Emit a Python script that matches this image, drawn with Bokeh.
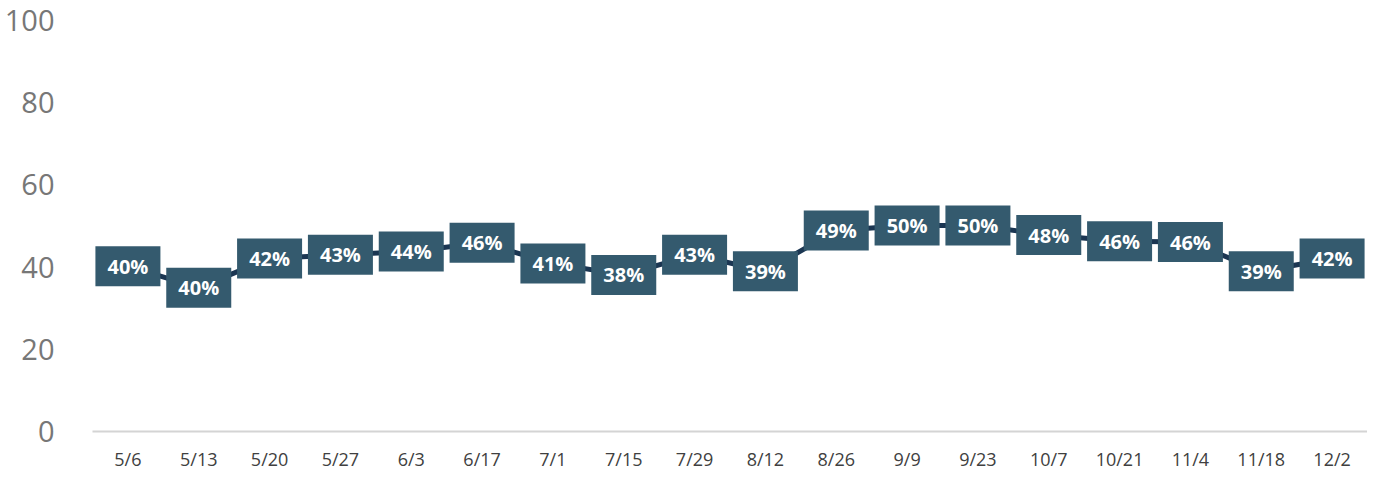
from bokeh.plotting import figure
from bokeh.models import ColumnDataSource, Range1d, FactorRange, FixedTicker
from bokeh.core.properties import value
from bokeh.embed import file_html
from bokeh.resources import INLINE

dates = ["5/6", "5/13", "5/20", "5/27", "6/3", "6/17", "7/1", "7/15", "7/29",
         "8/12", "8/26", "9/9", "9/23", "10/7", "10/21", "11/4", "11/18", "12/2"]
values = [40.2, 35.0, 42.1, 43.0, 43.8, 45.9, 40.9, 38.1, 43.0,
          39.0, 48.9, 50.1, 50.1, 47.8, 46.3, 46.1, 39.0, 42.1]
labels = ["40%", "40%", "42%", "43%", "44%", "46%", "41%", "38%", "43%",
          "39%", "49%", "50%", "50%", "48%", "46%", "46%", "39%", "42%"]
y_ticks = [0, 20, 40, 60, 80, 100]

src = ColumnDataSource(dict(x=dates, y=values, lab=labels))

p = figure(width=1367, height=473, x_range=FactorRange(*dates, range_padding=0),
           y_range=Range1d(0, 100), output_backend="svg", toolbar_location=None,
           min_border_left=92, min_border_right=0, min_border_top=20, min_border_bottom=36)
p.outline_line_color = None
p.grid.visible = False

p.line("x", "y", source=src, line_color="#1b3652", line_width=5)
p.rect("x", "y", width=65, height=40, width_units="screen", height_units="screen",
       source=src, fill_color="#345a6e", line_color=None)
p.text("x", "y", text="lab", source=src, text_color="white", text_font=value("Open Sans"),
       text_font_style="bold", text_font_size="20px", text_align="center",
       text_baseline="middle")

p.yaxis.ticker = FixedTicker(ticks=y_ticks)
p.yaxis.axis_line_color = None
p.yaxis.major_tick_line_color = None
p.yaxis.minor_tick_line_color = None
p.yaxis.major_label_text_font = "Open Sans"
p.yaxis.major_label_text_font_size = "29px"
p.yaxis.major_label_text_color = "#777777"
p.yaxis.major_label_standoff = 32

p.xaxis.axis_line_color = "#d4d4d4"
p.xaxis.axis_line_width = 2
p.xaxis.major_tick_line_color = None
p.xaxis.minor_tick_line_color = None
p.xaxis.major_label_text_font = "Open Sans"
p.xaxis.major_label_text_font_size = "18px"
p.xaxis.major_label_text_color = "#404040"
p.xaxis.major_label_standoff = 9

open("out.html", "w").write(file_html(p, INLINE))
